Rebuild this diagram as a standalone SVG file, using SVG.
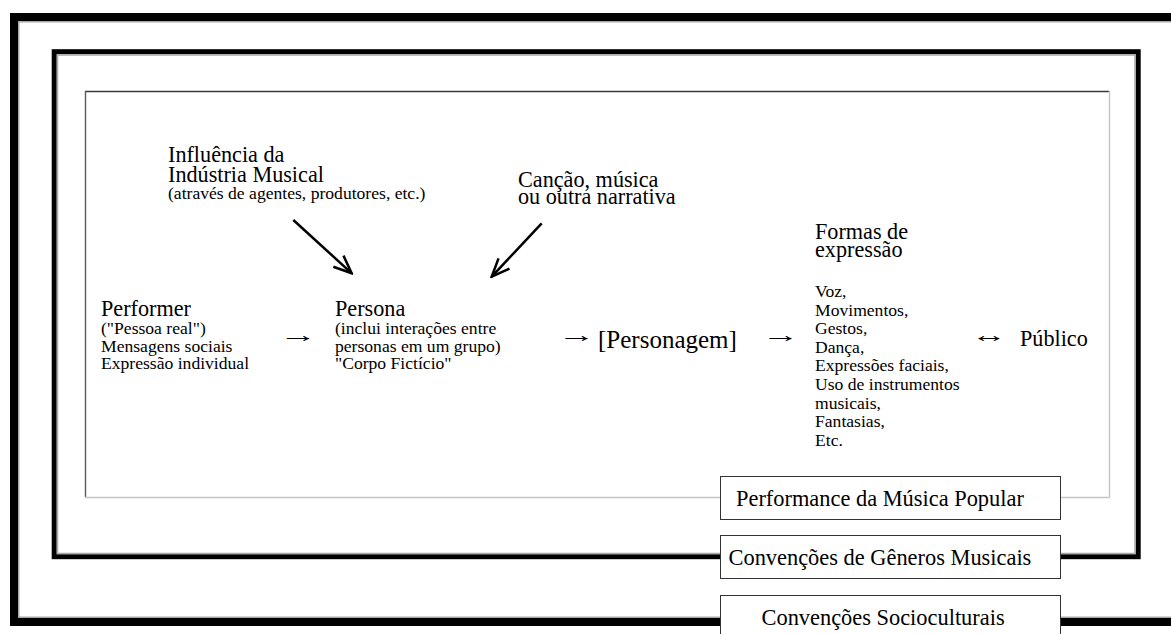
<svg xmlns="http://www.w3.org/2000/svg" width="1171" height="634" viewBox="0 0 1171 634">
  <defs>
    <style>
      .t { font-family: "Liberation Serif", "Times New Roman", serif; fill: #000; }
      .big { font-size: 22.2px; }
      .label { font-size: 22.4px; }
      .small { font-size: 17.6px; }
      .frameBlack { fill: none; stroke: #000; }
      .frameShade { fill: none; stroke: #a8a8a8; stroke-width: 1.5; }
      .labelBox { fill: #fff; stroke: #333; stroke-width: 1; }
      .conn { fill: none; stroke: #000; stroke-width: 2.5; }
    </style>
    <marker id="vhead" viewBox="-22 -10 24 20" refX="0" refY="0" markerWidth="24" markerHeight="20" markerUnits="userSpaceOnUse" orient="auto">
      <path d="M-18,-7.5 L0,0 L-18,7.5" fill="none" stroke="#000" stroke-width="2.5" stroke-linejoin="miter"/>
    </marker>
  </defs>
  <rect width="1171" height="634" fill="#fff"/>

  <g id="frames">
    <!-- outer frame: Convenções Socioculturais -->
    <rect class="frameBlack" x="14" y="17" width="1180" height="605" stroke-width="8"/>
    <rect class="frameShade" x="18.75" y="21.75" width="1180" height="595.5"/>
    <!-- middle frame: Convenções de Gêneros Musicais -->
    <rect class="frameBlack" x="54.2" y="51.7" width="1084" height="505" stroke-width="5"/>
    <rect class="frameShade" x="57.5" y="55" width="1077.5" height="498.5"/>
    <!-- inner frame: Performance da Música Popular -->
    <line x1="85" y1="91.5" x2="1109" y2="91.5" stroke="#3a3a3a" stroke-width="1.4"/>
    <line x1="85.5" y1="91" x2="85.5" y2="497" stroke="#5a5a5a" stroke-width="1.4"/>
    <line x1="85" y1="497.5" x2="1109.5" y2="497.5" stroke="#c4c4c4" stroke-width="1.4"/>
    <line x1="1109.5" y1="91" x2="1109.5" y2="497.5" stroke="#c4c4c4" stroke-width="1.4"/>
  </g>

  <g id="label-performance">
    <rect class="labelBox" x="720.5" y="476.5" width="340" height="43"/>
    <text class="t label" x="736" y="505.5">Performance da Música Popular</text>
  </g>
  <g id="label-generos">
    <rect class="labelBox" x="720.5" y="535.5" width="340" height="43"/>
    <text class="t label" x="728.5" y="565">Convenções de Gêneros Musicais</text>
  </g>
  <g id="label-socioculturais">
    <rect class="labelBox" x="720.5" y="595.5" width="340" height="50"/>
    <text class="t label" x="761.5" y="625">Convenções Socioculturais</text>
  </g>

  <g id="node-industria">
    <text class="t big" x="168" y="162.3">Influência da</text>
    <text class="t big" x="168" y="181.7">Indústria Musical</text>
    <text class="t small" x="168" y="198.5">(através de agentes, produtores, etc.)</text>
  </g>

  <g id="node-cancao">
    <text class="t big" x="518" y="187">Canção, música</text>
    <text class="t big" x="518" y="204">ou outra narrativa</text>
  </g>

  <g id="node-performer">
    <text class="t big" x="101" y="315.5">Performer</text>
    <text class="t small" x="101" y="334.3">("Pessoa real")</text>
    <text class="t small" x="101" y="351.5">Mensagens sociais</text>
    <text class="t small" x="101" y="368.5">Expressão individual</text>
  </g>

  <g id="node-persona">
    <text class="t big" x="335" y="315.5">Persona</text>
    <text class="t small" x="335" y="334.3">(inclui interações entre</text>
    <text class="t small" x="335" y="351.5">personas em um grupo)</text>
    <text class="t small" x="335" y="368.5">"Corpo Fictício"</text>
  </g>

  <g id="node-personagem">
    <text class="t" style="font-size:25px" x="598" y="347.5">[Personagem]</text>
  </g>

  <g id="node-formas">
    <text class="t big" x="815" y="239.3">Formas de</text>
    <text class="t big" x="815" y="257.3">expressão</text>
    <text class="t small" x="815" y="297">Voz,</text>
    <text class="t small" x="815" y="315.6">Movimentos,</text>
    <text class="t small" x="815" y="334.2">Gestos,</text>
    <text class="t small" x="815" y="352.8">Dança,</text>
    <text class="t small" x="815" y="371.4">Expressões faciais,</text>
    <text class="t small" x="815" y="390">Uso de instrumentos</text>
    <text class="t small" x="815" y="408.6">musicais,</text>
    <text class="t small" x="815" y="427.2">Fantasias,</text>
    <text class="t small" x="815" y="445.8">Etc.</text>
  </g>

  <g id="node-publico">
    <text class="t big" x="1020" y="345.7">Público</text>
  </g>

  <g id="connectors">
    <line class="conn" x1="293.3" y1="220" x2="351.7" y2="273.3" marker-end="url(#vhead)"/>
    <line class="conn" x1="541.7" y1="223.3" x2="491.7" y2="276.7" marker-end="url(#vhead)"/>
    <text class="t big" transform="translate(297.5 342) scale(1.7 1)" text-anchor="middle">→</text>
    <text class="t big" transform="translate(576 342) scale(1.7 1)" text-anchor="middle">→</text>
    <text class="t big" transform="translate(780 342) scale(1.7 1)" text-anchor="middle">→</text>
    <text class="t big" transform="translate(988.5 342) scale(1.6 1)" text-anchor="middle">↔</text>
  </g>
</svg>
